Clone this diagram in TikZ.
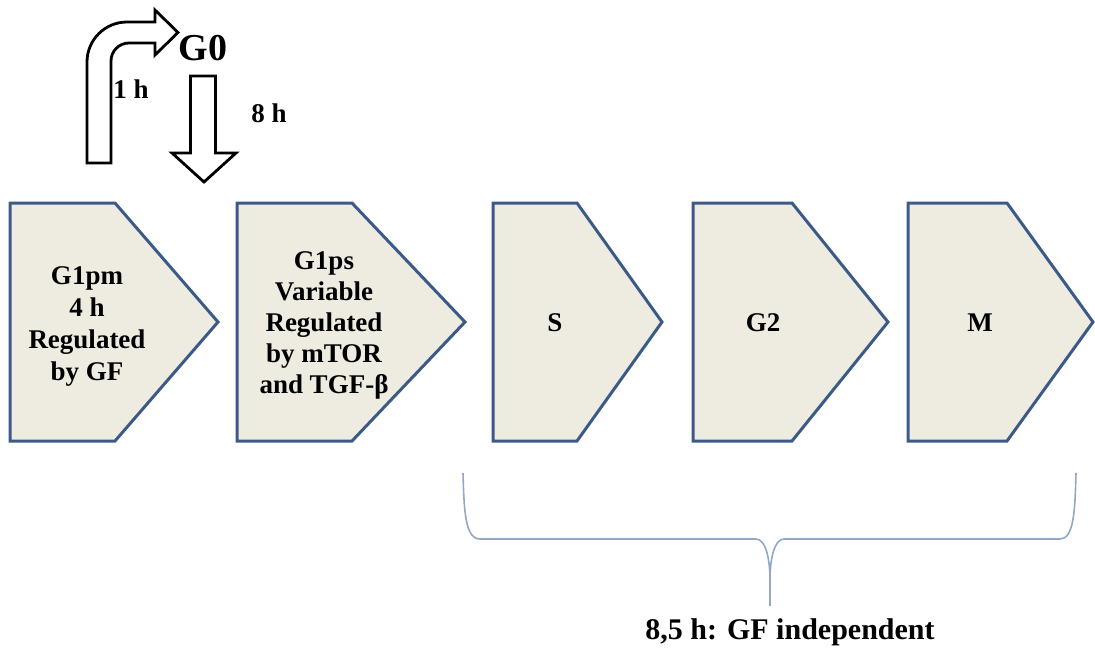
\documentclass[tikz,border=0pt]{standalone}
\usepackage{fontspec}
\setmainfont{Liberation Serif}
\definecolor{phaseblue}{HTML}{3C5A87}
\definecolor{phasefill}{HTML}{EEECE1}
\definecolor{bracecol}{HTML}{93A8C6}
\begin{document}
\begin{tikzpicture}[x=1pt,y=-1pt,
  phase/.style={draw=phaseblue, fill=phasefill, line width=3pt, line join=miter},
  blockarrow/.style={draw=black, fill=white, line width=2.8pt, line join=miter},
  phasetext/.style={font=\bfseries\fontsize{27}{32}\selectfont, align=center, inner sep=0pt},
  smalltext/.style={font=\bfseries\fontsize{27}{32}\selectfont, inner sep=0pt},
  bracestyle/.style={draw=bracecol, line width=1.6pt}]
\useasboundingbox (0,0) rectangle (1095,648);

% cell-cycle phases
\draw[phase] (10,203) -- (115,203) -- (218,322) -- (115,441) -- (10,441) -- cycle;
\draw[phase] (237,203) -- (352,203) -- (465,322) -- (352,441) -- (237,441) -- cycle;
\draw[phase] (493,203) -- (577,203) -- (662,322) -- (577,441) -- (493,441) -- cycle;
\draw[phase] (693,203) -- (792,203) -- (888,322) -- (792,441) -- (693,441) -- cycle;
\draw[phase] (908,203) -- (1007,203) -- (1093,322) -- (1007,441) -- (908,441) -- cycle;

\node[phasetext] (g1pm) at (87,326) {G1pm\\4 h\\Regulated\\by GF};
\node[phasetext, font=\bfseries\fontsize{27}{31}\selectfont] (g1ps) at (324,325)
  {G1ps\\Variable\\Regulated\\by mTOR\\and TGF-β};
\node[phasetext] (s) at (555,323) {S};
\node[phasetext] (g2) at (763,323) {G2};
\node[phasetext] (m) at (980,323) {M};

% exit to G0 (bent arrow) and return (down arrow)
\draw[blockarrow] (87,163) -- (87,62)
  .. controls (87,39.9) and (104.9,22) .. (127,22)
  -- (155,22) -- (155,10) -- (178,32.5) -- (155,55) -- (155,43) -- (129,43)
  .. controls (119.06,43) and (111,51.06) .. (111,61)
  -- (111,163) -- cycle;
\draw[blockarrow] (190.5,76) -- (215.5,76) -- (215.5,153) -- (236,153)
  -- (204,182) -- (172,153) -- (190.5,153) -- cycle;

\node[font=\bfseries\fontsize{38}{40}\selectfont, inner sep=0pt] (g0) at (203,48) {G0};
\node[smalltext] (t1h) at (131,89) {1 h};
\node[smalltext] (t8h) at (269,113) {8 h};

% brace under S, G2 and M
\draw[bracestyle] (463,473) .. controls (464,510) and (465,539) .. (480,539)
  -- (756,539) .. controls (766,539) and (770,560) .. (770,580) -- (770,606);
\draw[bracestyle] (1076,473) .. controls (1075,510) and (1074,539) .. (1060,539)
  -- (784,539) .. controls (774,539) and (770,560) .. (770,580);
\node[font=\bfseries\fontsize{30}{32}\selectfont, inner sep=0pt] (gfi) at (790,632)
  {8,5 h: GF independent};
\end{tikzpicture}
\end{document}
